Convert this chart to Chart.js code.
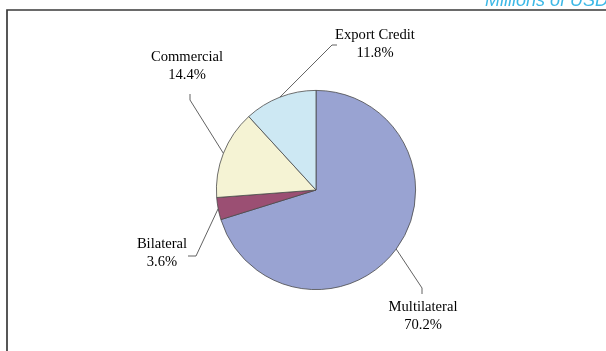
<!DOCTYPE html>
<html>
<head>
<meta charset="utf-8">
<script src="https://cdn.jsdelivr.net/npm/chart.js@4"></script>
<style>
  html, body { margin: 0; padding: 0; background: #fff; }
  #wrap { width: 606px; height: 351px; position: relative; }
</style>
</head>
<body>
<div id="wrap"><canvas id="debt-pie" width="606" height="351"></canvas></div>
<script>
// creditor categories and their share of the total (%)
var categories = ['Multilateral', 'Bilateral', 'Commercial', 'Export Credit'];
var shares = [70.2, 3.6, 14.4, 11.8];
var unitNote = 'Millions of USD';

var sliceColors = ['#99a3d2', '#9b4f73', '#f5f3d4', '#cde8f3'];
var labelFont = '14.6px "Liberation Serif", "Times New Roman", serif';

// label layout for each slice, relative to the pie centre:
// elbow = where the leader bends, tick = end of the short stub, text = middle of first line
var labelLayout = [
    { elbow: [106, 98], tick: [106, 104], text: [107, 117] },
    { elbow: [-120, 66], tick: [-128, 66], text: [-154, 54] },
    { elbow: [-126, -90], tick: [-126, -96], text: [-129, -133] },
    { elbow: [16, -145], tick: [21, -145], text: [59, -155] }
];

// frame line and unit note behind the chart
var framePlugin = {
    id: 'frame',
    beforeDraw: function(chart) {
        var ctx = chart.ctx;
        ctx.save();
        ctx.fillStyle = '#ffffff';
        ctx.fillRect(0, 0, chart.width, chart.height);
        ctx.strokeStyle = '#3a3a3a';
        ctx.lineWidth = 1.7;
        ctx.beginPath();
        ctx.moveTo(chart.width, 10);
        ctx.lineTo(7, 10);
        ctx.lineTo(7, chart.height);
        ctx.stroke();
        ctx.fillStyle = '#3cb8e6';
        ctx.font = 'italic 18px "Liberation Sans", Arial, sans-serif';
        ctx.textAlign = 'left';
        ctx.textBaseline = 'alphabetic';
        ctx.fillText(unitNote, 485, 6);
        ctx.restore();
    }
};

// leader lines and two-line labels (name + percentage)
var leaderPlugin = {
    id: 'leaders',
    afterDatasetsDraw: function(chart) {
        var ctx = chart.ctx;
        var meta = chart.getDatasetMeta(0);
        ctx.save();
        meta.data.forEach(function(arc, i) {
            var p = arc.getProps(['x', 'y', 'startAngle', 'endAngle', 'outerRadius'], true);
            var mid = (p.startAngle + p.endAngle) / 2;
            var sx = p.x + Math.cos(mid) * p.outerRadius;
            var sy = p.y + Math.sin(mid) * p.outerRadius;
            var lay = labelLayout[i];

            ctx.strokeStyle = '#505050';
            ctx.lineWidth = 0.9;
            ctx.beginPath();
            ctx.moveTo(sx, sy);
            ctx.lineTo(p.x + lay.elbow[0], p.y + lay.elbow[1]);
            ctx.lineTo(p.x + lay.tick[0], p.y + lay.tick[1]);
            ctx.stroke();

            ctx.fillStyle = '#000000';
            ctx.font = labelFont;
            ctx.textAlign = 'center';
            ctx.textBaseline = 'middle';
            var tx = p.x + lay.text[0];
            var ty = p.y + lay.text[1];
            ctx.fillText(categories[i], tx, ty);
            ctx.fillText(shares[i].toFixed(1) + '%', tx, ty + 18);
        });
        ctx.restore();
    }
};

var ctx = document.getElementById('debt-pie').getContext('2d');
var debtPie = new Chart(ctx, {
    type: 'pie',
    data: {
        labels: categories,
        datasets: [{
            data: shares,
            backgroundColor: sliceColors,
            borderColor: '#4a4a4a',
            borderWidth: 0.8,
            hoverOffset: 0
        }]
    },
    options: {
        responsive: false,
        animation: false,
        events: [],
        layout: {
            padding: { top: 90, bottom: 61, left: 216, right: 190 }
        },
        plugins: {
            legend: { display: false },
            tooltip: { enabled: false },
            title: { display: false }
        }
    },
    plugins: [framePlugin, leaderPlugin]
});
</script>
</body>
</html>
